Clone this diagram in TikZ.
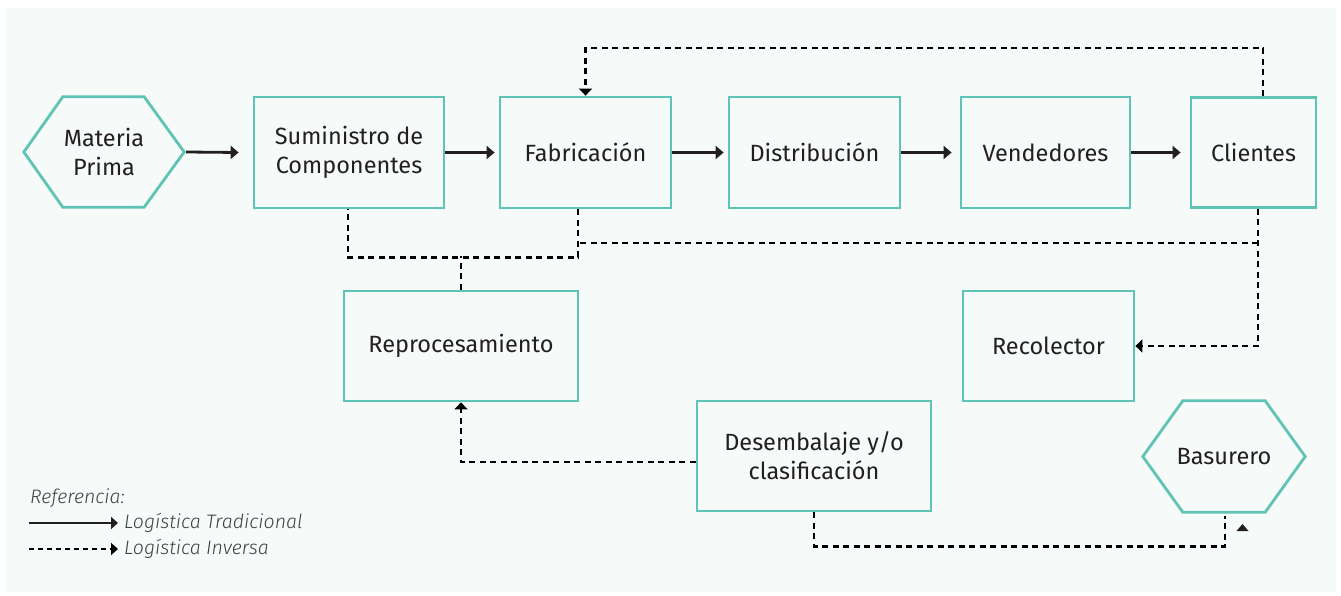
\documentclass[tikz,border=0pt]{standalone}
\usepackage{fontspec}
\setmainfont{Fira Sans}[ItalicFont={* Light Italic}]
\usetikzlibrary{arrows.meta}
\definecolor{bgc}{HTML}{F6FAF9}
\definecolor{teal}{HTML}{5EC4B5}
\definecolor{ink}{HTML}{231F20}
\definecolor{legc}{HTML}{404040}
\tikzset{
  box/.style={draw=teal,line width=2.8pt,fill=bgc,inner sep=0pt,align=center,text=ink,font=\fontsize{23.5}{29}\selectfont},
  hexnode/.style={inner sep=0pt,align=center,text=ink,font=\fontsize{23.5}{29}\selectfont},
  trad/.style={draw=ink,line width=2.8pt,-{Triangle[length=8pt,width=13pt]}},
  inv/.style={draw=black,line width=2.8pt,dash pattern=on 6pt off 4.5pt},
  invarrow/.style={inv,-{Triangle[length=7pt,width=13pt]}},
  legtext/.style={anchor=west,inner sep=0pt,text=legc,font=\fontsize{19.5}{22}\selectfont\itshape}
}
\begin{document}
\begin{tikzpicture}[x=1pt,y=-1pt]
\useasboundingbox (0,0) rectangle (1341,596);
\fill[bgc] (5,8) rectangle (1336,592);
% hexagon nodes
\node[hexnode,minimum width=160pt,minimum height=110pt] (mp) at (104,152) {Materia\\Prima};
\draw[teal,line width=2.8pt,line join=miter] (mp.west) -- ([xshift=39pt]mp.north west) -- ([xshift=-40pt]mp.north east) -- (mp.east) -- ([xshift=-40pt]mp.south east) -- ([xshift=39pt]mp.south west) -- cycle;
\node[hexnode,minimum width=162pt,minimum height=111pt] (bas) at (1224,456.5) {Basurero};
\draw[teal,line width=2.8pt,line join=miter] (bas.west) -- ([xshift=40pt]bas.north west) -- ([xshift=-40pt]bas.north east) -- (bas.east) -- ([xshift=-40pt]bas.south east) -- ([xshift=40pt]bas.south west) -- cycle;
% box nodes
\node[box,minimum width=190pt,minimum height=111pt] (sum) at (349,152.5) {Suministro de\\Componentes};
\node[box,minimum width=171pt,minimum height=111pt] (fab) at (585.5,152.5) {Fabricación};
\node[box,minimum width=171pt,minimum height=111pt] (dist) at (814.5,152.5) {Distribución};
\node[box,minimum width=169pt,minimum height=111pt] (vend) at (1045.5,152.5) {Vendedores};
\node[box,minimum width=125pt,minimum height=110pt] (cli) at (1253.5,152.5) {Clientes};
\node[box,minimum width=234pt,minimum height=110pt] (rep) at (461,346) {Reprocesamiento};
\node[box,minimum width=171pt,minimum height=110pt] (rec) at (1048.5,346) {Recolector};
\node[box,minimum width=234pt,minimum height=110pt] (des) at (814,456) {Desembalaje y/o\\clasificación};
% traditional flow
\draw[trad] ([xshift=2pt]mp.east) -- ([xshift=-14pt]sum.west);
\draw[trad] (sum.east) -- ([xshift=-4pt]fab.west);
\draw[trad] (fab.east) -- ([xshift=-4pt]dist.west);
\draw[trad] (dist.east) -- ([xshift=-8pt]vend.west);
\draw[trad] (vend.east) -- ([xshift=-9pt]cli.west);
% reverse flow
\draw[invarrow] ([xshift=9.5pt]cli.north) -- ++(0,-48) -| (fab.north);
\draw[invarrow] ([xshift=4.5pt]cli.south) |- (rec.east);
\coordinate (j1) at (1258,243);
\coordinate (j2) at (578,243);
\draw[inv] (j1) -- (j2);
\draw[inv] ([xshift=-7.5pt]fab.south) -- ++(0,48) -| ([xshift=-1pt]sum.south);
\coordinate (j3) at (461,256);
\draw[inv] (rep.north) -- (j3);
\draw[invarrow] ([yshift=-6pt]des.west) -| (rep.south);
\draw[inv] (des.south) -- ++(0,34) -| ([yshift=-4pt,xshift=1pt]bas.south);
\fill[ink] (1236.5,531) -- (1248.5,531) -- (1242.5,524) -- cycle;
% legend
\node[legtext] (lref) at (30,498) {Referencia:};
\coordinate (l1a) at (29,523);
\node[legtext] (l1t) at (124,523) {Logística Tradicional};
\draw[trad,line width=2.5pt,-{Triangle[length=7pt,width=12pt]}] (l1a) -- ([xshift=-6pt]l1t.west);
\coordinate (l2a) at (29,549);
\node[legtext] (l2t) at (124,549) {Logística Inversa};
\draw[inv,line width=2.5pt,dash pattern=on 5pt off 4pt,-{Triangle[length=7pt,width=12pt]}] (l2a) -- ([xshift=-6pt]l2t.west);
\end{tikzpicture}
\end{document}
